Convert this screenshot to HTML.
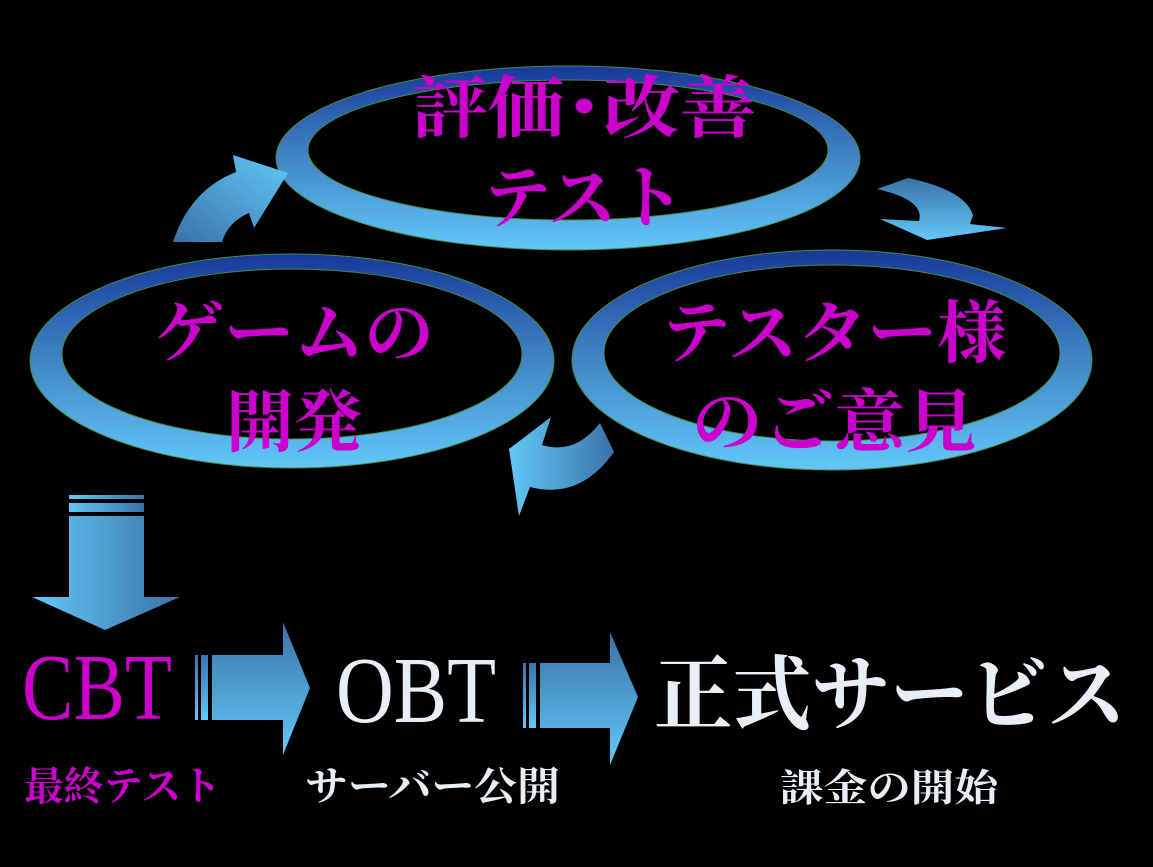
<!DOCTYPE html>
<html><head><meta charset="utf-8"><style>
html,body{margin:0;padding:0;background:#000;width:1153px;height:867px;overflow:hidden}
svg{display:block}
text{font-family:"Liberation Serif","Noto Serif CJK SC","Noto Serif CJK JP",serif;font-weight:bold}
</style></head><body>
<svg width="1153" height="867" viewBox="0 0 1153 867">
<defs>
<linearGradient id="ring" x1="0" y1="0" x2="0" y2="1">
<stop offset="0" stop-color="#17399a"/><stop offset="0.45" stop-color="#3d7fc0"/><stop offset="1" stop-color="#62c8f8"/></linearGradient>
<linearGradient id="hl" x1="0" y1="0" x2="1" y2="0">
<stop offset="0" stop-color="#62c8f8"/><stop offset="1" stop-color="#3a72a8"/></linearGradient>
<linearGradient id="vd" x1="0" y1="0" x2="0" y2="1">
<stop offset="0" stop-color="#3a72a8"/><stop offset="1" stop-color="#62c8f8"/></linearGradient>
<linearGradient id="da" x1="0" y1="1" x2="1" y2="0">
<stop offset="0" stop-color="#3a72a8"/><stop offset="1" stop-color="#62c8f8"/></linearGradient>
</defs>
<g fill="url(#ring)" fill-rule="evenodd" stroke="#4a8a40" stroke-width="1">
<path d="M276,158 a292,92 0 1,0 584,0 a292,92 0 1,0 -584,0 Z M308,150 a260,70 0 1,0 520,0 a260,70 0 1,0 -520,0 Z"/>
<path d="M30,361 a262,107 0 1,0 524,0 a262,107 0 1,0 -524,0 Z M62,354 a230,85 0 1,0 460,0 a230,85 0 1,0 -460,0 Z"/>
<path d="M572,360 a260,110 0 1,0 520,0 a260,110 0 1,0 -520,0 Z M604,353 a228,88 0 1,0 456,0 a228,88 0 1,0 -456,0 Z"/>
</g>
<path fill="url(#da)" d="M173,242 Q190,190 236,172 L233,155 L288,173 L254,228 L249,213 Q228,222 222,242 Z"/>
<path fill="url(#vd)" d="M877,189 L908,178 Q965,190 973,215 L970,224 L1007,228 L927,240 L880,219 L919,221 Q925,200 877,189 Z"/>
<path fill="url(#hl)" d="M551,417 L542,445 Q575,455 600,423 L614,452 Q580,500 530,487 L519,516 L509,449 Z"/>
<g fill="url(#hl)">
<rect x="69" y="495" width="75" height="4"/><rect x="69" y="503" width="75" height="9"/>
<path d="M69,516 H144 V597 H180 L105,630 L32,597 H69 Z"/>
</g>
<g fill="url(#vd)">
<rect x="195" y="655" width="3" height="65"/><rect x="201" y="655" width="7" height="65"/>
<path d="M212,655 H283 V622 L310,688 L283,755 V720 H212 Z"/>
<rect x="523" y="663" width="3" height="65"/><rect x="529" y="663" width="7" height="65"/>
<path d="M540,663 H610 V632 L638,697 L610,765 V728 H540 Z"/>
</g>
<g fill="#cc00cc" font-size="68" text-anchor="middle">
<text x="584" y="132" textLength="345" lengthAdjust="spacingAndGlyphs">評価･改善</text>
<text x="584" y="222">テスト</text>
<text x="294" y="357" textLength="280" lengthAdjust="spacingAndGlyphs">ゲームの</text>
<text x="294" y="446">開発</text>
<text x="834" y="357" textLength="345" lengthAdjust="spacingAndGlyphs">テスター様</text>
<text x="834" y="446" textLength="285" lengthAdjust="spacingAndGlyphs">のご意見</text>
</g>
<text x="22" y="719" font-size="94" fill="#cc00cc" style="font-weight:normal" textLength="150" lengthAdjust="spacingAndGlyphs">CBT</text>
<text x="336" y="722" font-size="94" fill="#e8eef6" style="font-weight:normal" textLength="160" lengthAdjust="spacingAndGlyphs">OBT</text>
<text x="654" y="723" font-size="82" fill="#e8eef6" textLength="472" lengthAdjust="spacingAndGlyphs">正式サービス</text>
<text x="24" y="800" font-size="40" fill="#cc00cc" textLength="197" lengthAdjust="spacingAndGlyphs">最終テスト</text>
<text x="305" y="800" font-size="40" fill="#e8eef6" textLength="255" lengthAdjust="spacingAndGlyphs">サーバー公開</text>
<text x="780" y="801" font-size="38" fill="#e8eef6" textLength="218" lengthAdjust="spacingAndGlyphs">課金の開始</text>
</svg>
</body></html>
